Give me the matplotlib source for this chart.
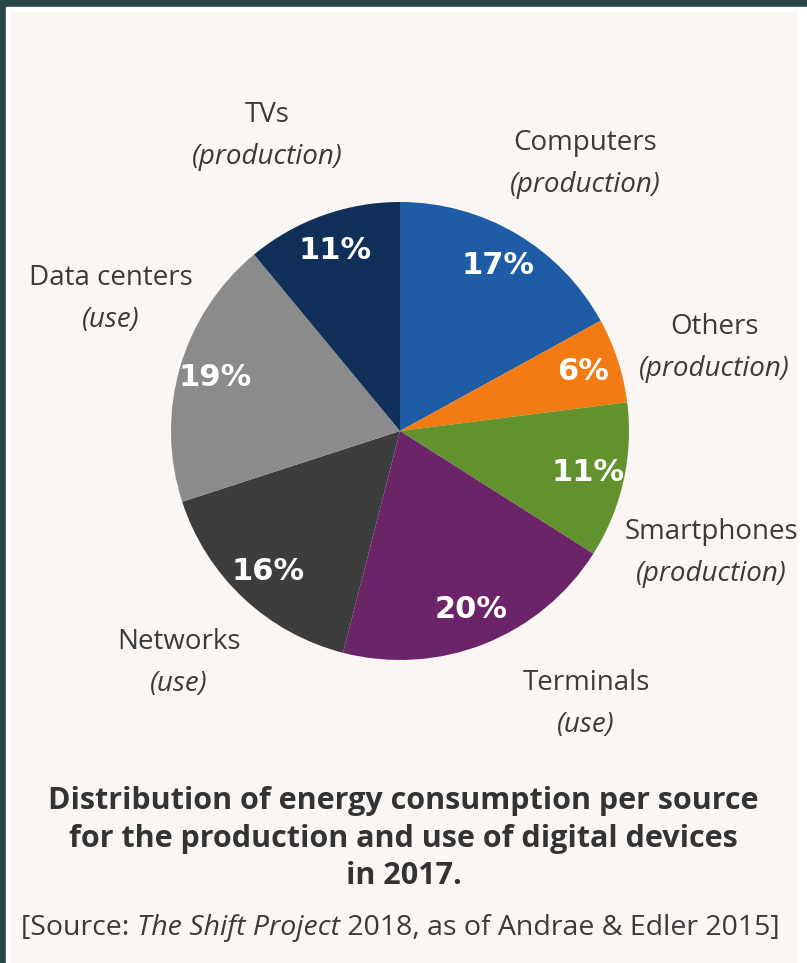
import matplotlib.pyplot as plt
from matplotlib.patches import Rectangle

categories = ['Computers', 'Others', 'Smartphones', 'Terminals', 'Networks', 'Data centers', 'TVs']
kinds = ['production', 'production', 'production', 'use', 'use', 'use', 'production']
shares = [17, 6, 11, 20, 16, 19, 11]
colors = ['#1f5ca6', '#f27b13', '#62922d', '#6b2468', '#3d3d3d', '#8b8b8b', '#10305a']

title_lines = ['Distribution of energy consumption per source',
               'for the production and use of digital devices',
               'in 2017.']
source_parts = ['[Source: ', 'The Shift Project', ' 2018, as of Andrae & Edler 2015]']

# label centres, in pixels from the top-left corner
label_pos = [(585, 143), (714, 327), (711, 532), (586, 683), (179, 642), (111, 278), (267, 115)]

W, H = 807, 963
FONT = 'Open Sans'
TXT = '#3a3a3a'

fig = plt.figure(figsize=(W / 100, H / 100), dpi=100)
fig.patch.set_facecolor('#2b4646')
ax = fig.add_axes([0, 0, 1, 1])

# panel
ax.add_patch(Rectangle((6, 0), W - 6, H - 7, color='white', zorder=0))
ax.add_patch(Rectangle((11, 0), W - 21, H - 12, color='#faf6f3', zorder=0))

wedges, texts, autotexts = ax.pie(
    shares, colors=colors, startangle=90, counterclock=False,
    center=(400, H - 431), radius=229,
    autopct=lambda p: f'{p:.0f}%', pctdistance=0.84,
    textprops=dict(color='white', fontsize=22, fontweight='bold', family='DejaVu Sans'))

for (x, y), name, kind in zip(label_pos, categories, kinds):
    ax.text(x, H - y, name, ha='center', va='center', fontsize=20, family=FONT, color=TXT)
    ax.text(x, H - y - 42, f'({kind})', ha='center', va='center', fontsize=20,
            family=FONT, style='italic', color=TXT)

for yy, line in zip([801, 839, 876], title_lines):
    ax.text(W / 2, H - yy, line, ha='center', va='center', fontsize=22,
            fontweight='bold', family=FONT, color='#333333')

# source line, mixed roman / italic
first = ax.text(20, H - 942, source_parts[0], ha='left', va='bottom', fontsize=20.5,
                family=FONT, color=TXT)
pieces = [first]
for i, part in enumerate(source_parts[1:]):
    pieces.append(ax.annotate(part, xy=(1, 0), xycoords=pieces[-1], ha='left', va='bottom',
                              fontsize=20.5, family=FONT, color=TXT,
                              style='italic' if i == 0 else 'normal'))

ax.set_xlim(0, W)
ax.set_ylim(0, H)
ax.axis('off')

# centre the source line on x = 400
fig.canvas.draw()
r = fig.canvas.get_renderer()
x0 = pieces[0].get_window_extent(r).x0
x1 = pieces[-1].get_window_extent(r).x1
first.set_x(400 - (x1 - x0) / 2)

fig.savefig('out.png', dpi=100, facecolor=fig.get_facecolor())
